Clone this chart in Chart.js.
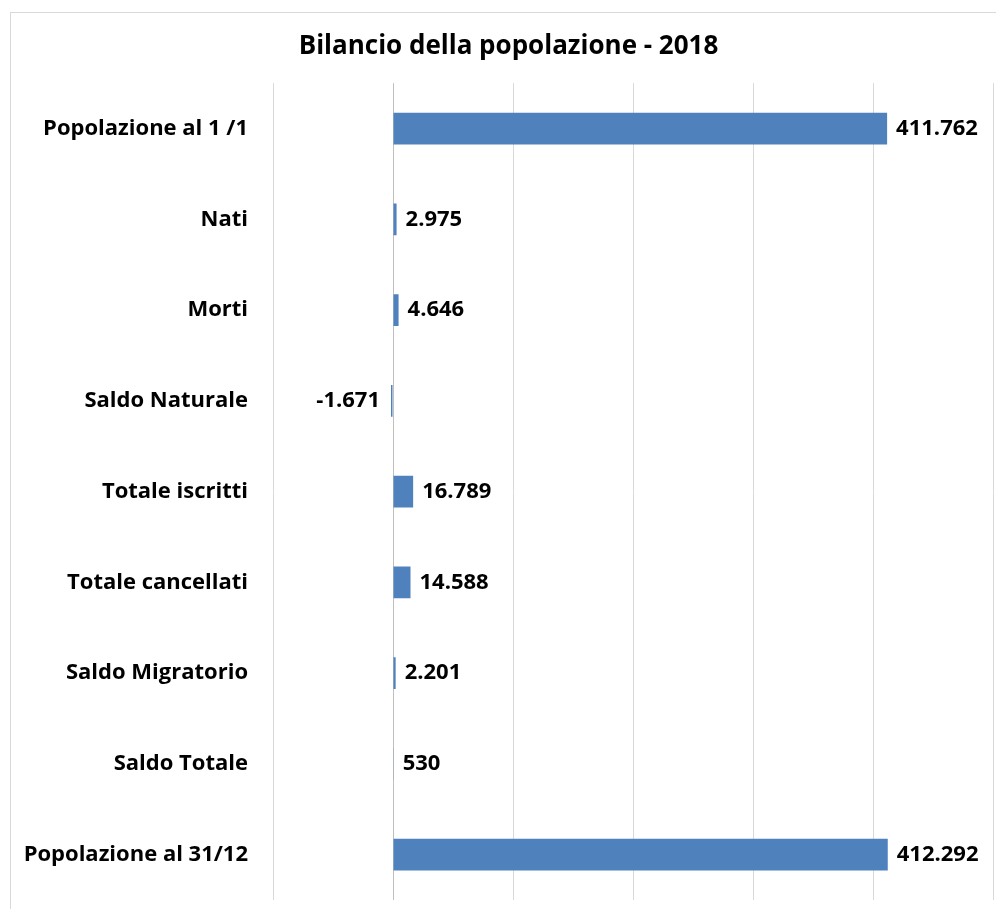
<!DOCTYPE html>
<html>
<head>
<meta charset="utf-8">
<script src="https://cdn.jsdelivr.net/npm/chart.js@4/dist/chart.umd.min.js"></script>
<style>
html,body{margin:0;padding:0;background:#fff;}
#wrap{position:relative;width:996px;height:909px;}
</style>
</head>
<body>
<div id="wrap"><canvas id="c" width="996" height="909"></canvas></div>
<script>
const titleText = 'Bilancio della popolazione - 2018';
const categories = ['Popolazione al 1 /1','Nati','Morti','Saldo Naturale','Totale iscritti','Totale cancellati','Saldo Migratorio','Saldo Totale','Popolazione al 31/12'];
const values = [411762, 2975, 4646, -1671, 16789, 14588, 2201, 530, 412292];
const axisMin = -100000;
const axisMax = 500000;
const axisStep = 100000;

const FONT = '"Open Sans"';

function fmt(v){
  const s = Math.abs(v).toString().replace(/\B(?=(\d{3})+(?!\d))/g, '.');
  return (v < 0 ? '-' : '') + s;
}

const borderPlugin = {
  id: 'frame',
  beforeDraw(chart){
    const ctx = chart.ctx;
    ctx.save();
    ctx.fillStyle = '#ffffff';
    ctx.fillRect(0,0,chart.width,chart.height);
    ctx.strokeStyle = '#d9d9d9';
    ctx.lineWidth = 1;
    ctx.strokeRect(10.5, 12.5, chart.width + 20, chart.height + 20);
    ctx.restore();
  }
};

const labelPlugin = {
  id: 'barLabels',
  afterDatasetsDraw(chart){
    const ctx = chart.ctx;
    const meta = chart.getDatasetMeta(0);
    ctx.save();
    ctx.font = 'bold 22px ' + FONT;
    ctx.fillStyle = '#000000';
    ctx.textBaseline = 'middle';
    meta.data.forEach((bar, i) => {
      const v = values[i];
      if (v >= 0) {
        ctx.textAlign = 'left';
        ctx.fillText(fmt(v), Math.max(bar.x, bar.base) + 9, bar.y);
      } else {
        ctx.textAlign = 'right';
        ctx.fillText(fmt(v), Math.min(bar.x, bar.base) - 11, bar.y);
      }
    });
    ctx.restore();
  }
};

new Chart(document.getElementById('c'), {
  type: 'bar',
  data: {
    labels: categories,
    datasets: [{
      data: values,
      backgroundColor: '#4f81bd',
      borderWidth: 0,
      categoryPercentage: 1,
      barPercentage: 0.35
    }]
  },
  plugins: [borderPlugin, labelPlugin],
  options: {
    indexAxis: 'y',
    responsive: false,
    animation: false,
    devicePixelRatio: 1,
    layout: { padding: { left: 24, right: 3, top: 0, bottom: 9 } },
    plugins: {
      legend: { display: false },
      tooltip: { enabled: false },
      title: {
        display: true,
        text: titleText,
        color: '#000000',
        font: { family: FONT, size: 26, weight: 'bold', lineHeight: 1.2 },
        padding: { top: 31, bottom: 21 }
      }
    },
    scales: {
      x: {
        min: axisMin,
        max: axisMax,
        ticks: { display: false, stepSize: axisStep },
        grid: {
          drawTicks: false,
          color: ctx => ctx.tick && ctx.tick.value === 0 ? '#bfbfbf' : '#d9d9d9',
          lineWidth: 1
        },
        border: { display: false },
        afterFit(scale){ scale.height = 0; scale.paddingLeft = 0; scale.paddingRight = 0; }
      },
      y: {
        ticks: {
          color: '#000000',
          font: { family: FONT, size: 22, weight: 'bold' },
          padding: 25
        },
        grid: { display: false, drawTicks: false },
        border: { display: false },
        afterFit(scale){ scale.width = 249; scale.paddingTop = 0; scale.paddingBottom = 0; }
      }
    }
  }
});
</script>
</body>
</html>
